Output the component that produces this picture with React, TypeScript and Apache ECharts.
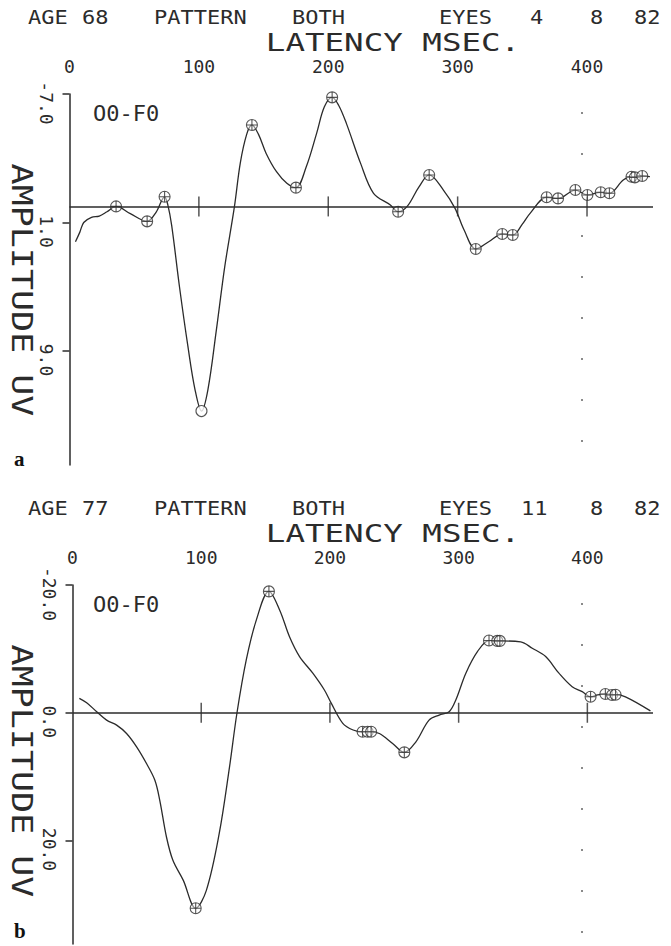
import { useEffect, useRef } from "react";
import * as echarts from "echarts";

// ---------- shared axis values ----------
const latencyTickLabels = [0, 100, 200, 300, 400];
const zeroLineTicks = [100, 200, 300, 400];
const dottedLatency = 396;
const latencyMax = 451;

// ---------- panel a ----------
const headerWordsA = ["AGE", "68", "PATTERN", "BOTH", "EYES", "4", "8", "82"];
const ampTicksA = [-7, 1, 9];
const ampMinA = -7;
const ampMaxA = 16.1;
const latencyA = [4.6, 8, 11, 17, 23, 29, 36, 47, 60, 67, 73.5, 76, 79, 85, 91.5, 97, 102, 107, 113.5, 120, 127.5, 132, 137, 141, 146, 152, 160, 168, 175, 183, 191, 197, 203, 208, 214, 225, 235, 248, 254, 261, 270, 278, 289, 298, 305, 314, 324, 334.5, 342.6, 350, 356, 368.8, 377.6, 391, 400.3, 410.6, 417.3, 428, 434.4, 437, 442.7, 448.6];
const amplitudeA = [2.2, 1.6, 1.0, 0.68, 0.6, 0.33, 0.0, 0.45, 0.93, 0.35, -0.6, -0.1, 1.2, 5.0, 8.7, 11.4, 12.74, 11.4, 7.7, 3.75, 0, -2.7, -4.5, -5.07, -4.5, -3.3, -2.16, -1.44, -1.17, -2.47, -4.55, -6.2, -6.79, -6.3, -5.17, -2.68, -0.82, -0.09, 0.33, 0, -1.2, -1.96, -1.02, 0.12, 1.47, 2.65, 2.2, 1.72, 1.78, 1.1, 0.43, -0.57, -0.5, -1.02, -0.71, -0.88, -0.82, -1.64, -1.85, -1.81, -1.89, -1.85];
const markLatencyA = [36, 60, 73.5, 141, 175, 203, 254, 278, 314, 334.5, 342.6, 368.8, 377.6, 391, 400.3, 410.6, 417.3, 434.4, 437, 442.7];
const markAmplitudeA = [0.0, 0.93, -0.6, -5.07, -1.17, -6.79, 0.33, -1.96, 2.65, 1.72, 1.78, -0.57, -0.5, -1.02, -0.71, -0.88, -0.82, -1.85, -1.81, -1.89];
const openLatencyA = [102];
const openAmplitudeA = [12.74];

// ---------- panel b ----------
const headerWordsB = ["AGE", "77", "PATTERN", "BOTH", "EYES", "11", "8", "82"];
const ampTicksB = [-20, 0, 20];
const ampMinB = -20;
const ampMaxB = 36.2;
const latencyB = [5.3, 11, 18.8, 26.5, 34.3, 42, 49.8, 57.5, 64, 67.8, 73, 78, 86, 95.7, 104, 114, 122, 127.8, 135, 142.8, 152.6, 160.9, 168.6, 176.4, 186.7, 195.7, 201, 210, 218, 225.4, 229.3, 232, 238.4, 248.7, 257.8, 266.8, 277, 284.9, 292.6, 297.8, 305.6, 314.6, 323.6, 330, 332, 348.2, 357.2, 367.6, 377.9, 388.2, 396, 402.5, 408, 414, 419.2, 421.9, 429.6, 449];
const amplitudeB = [-2.26, -1.57, -0.16, 1.15, 1.93, 3.24, 5.33, 7.95, 10.56, 13.7, 19.45, 23.1, 26.2, 30.6, 27.8, 18.9, 8.47, 0, -8.27, -14.5, -19.0, -16.1, -11.9, -8.8, -6.2, -3.56, -1.5, 1.66, 2.7, 2.98, 2.98, 2.98, 3.24, 4.8, 6.2, 4.55, 1.15, 0.36, -0.16, -2.0, -6.2, -9.57, -11.3, -11.25, -11.25, -11.1, -10.1, -8.8, -6.2, -4.08, -3.3, -2.5, -2.8, -2.93, -2.78, -2.83, -2.5, -0.3];
const markLatencyB = [95.7, 152.6, 225.4, 229.3, 232, 257.8, 323.6, 330, 332, 402.5, 414, 419.2, 421.9];
const markAmplitudeB = [30.6, -19.0, 2.98, 2.98, 2.98, 6.2, -11.3, -11.25, -11.25, -2.5, -2.93, -2.78, -2.83];

const channelLabel = "O0-F0";
const xTitle = "LATENCY MSEC.";
const yTitle = "AMPLITUDE UV";

const INK = "#2b2b2b";
const MONO = '"DejaVu Sans Mono", "Liberation Mono", monospace';
const CROSS_CIRCLE =
  "path://M10,0A10,10,0,1,1,-10,0A10,10,0,1,1,10,0ZM-10,0L10,0M0,-10L0,10";

const zip = (xs: number[], ys: number[]) => xs.map((x, i) => [x, ys[i]]);

export default function App() {
  const ref = useRef<HTMLDivElement>(null);

  useEffect(() => {
    if (!ref.current) return;
    const chart = echarts.init(ref.current, null, { renderer: "svg" });

    const panels = [
      { top: 94, height: 371, left: 69.5, min: ampMinA, max: ampMaxA, ticks: ampTicksA, interval: 8 },
      { top: 585, height: 359, left: 72.5, min: ampMinB, max: ampMaxB, ticks: ampTicksB, interval: 20 },
    ];

    const grids = panels.map((p) => ({
      left: p.left,
      right: 18,
      top: p.top,
      height: p.height,
      containLabel: false,
      outerBoundsMode: "none",
    }));

    const xAxes = panels.map((_, i) => ({
      type: "value",
      gridIndex: i,
      position: "top",
      min: 0,
      max: latencyMax,
      interval: 100,
      axisLine: { show: false, onZero: false },
      axisTick: { show: false },
      splitLine: { show: false },
      axisLabel: {
        customValues: latencyTickLabels,
        margin: 19,
        color: INK,
        fontFamily: MONO,
        fontSize: 18,
      },
    }));

    const yAxes = panels.map((p, i) => ({
      type: "value",
      gridIndex: i,
      inverse: true,
      min: p.min,
      max: p.max,
      interval: p.interval,
      axisLine: { show: true, onZero: false, lineStyle: { color: INK, width: 1.5 } },
      axisTick: { show: true, customValues: p.ticks, length: 7, inside: false, lineStyle: { color: INK, width: 1.5 } },
      splitLine: { show: false },
      axisLabel: {
        customValues: p.ticks,
        rotate: -90,
        margin: 14,
        padding: [0, 0, 0, 18],
        color: INK,
        fontFamily: MONO,
        fontSize: 18,
        formatter: (v: number) => v.toFixed(1),
      },
    }));

    const series: any[] = [];
    const curves = [
      { lat: latencyA, amp: amplitudeA, mLat: markLatencyA, mAmp: markAmplitudeA },
      { lat: latencyB, amp: amplitudeB, mLat: markLatencyB, mAmp: markAmplitudeB },
    ];
    curves.forEach((c, i) => {
      series.push({
        type: "line",
        xAxisIndex: i,
        yAxisIndex: i,
        data: zip(c.lat, c.amp),
        smooth: 0.35,
        showSymbol: false,
        lineStyle: { color: INK, width: 1.3 },
        markLine: {
          silent: true,
          symbol: "none",
          label: { show: false },
          data: [
            { yAxis: 0, lineStyle: { color: INK, width: 1.5, type: "solid" } },
            { xAxis: dottedLatency, lineStyle: { color: "#8a8a8a", width: 2, type: [2, 39], dashOffset: -18 } },
          ],
        },
      });
      series.push({
        type: "scatter",
        xAxisIndex: i,
        yAxisIndex: i,
        data: zeroLineTicks.map((t) => [t, 0]),
        symbol: "rect",
        symbolSize: [1.5, 20],
        itemStyle: { color: INK },
        z: 3,
      });
      series.push({
        type: "scatter",
        xAxisIndex: i,
        yAxisIndex: i,
        data: zip(c.mLat, c.mAmp),
        symbol: CROSS_CIRCLE,
        symbolSize: 11,
        itemStyle: { color: "rgba(255,255,255,0.6)", borderColor: INK, borderWidth: 1.1 },
        z: 4,
      });
    });
    series.push({
      type: "scatter",
      xAxisIndex: 0,
      yAxisIndex: 0,
      data: zip(openLatencyA, openAmplitudeA),
      symbol: "circle",
      symbolSize: 11,
      itemStyle: { color: "#fff", borderColor: INK, borderWidth: 1.1 },
      z: 4,
    });

    const headerX = [28, 82, 154, 292, 439, 530, 590, 634];
    const headerXB = [28, 82, 154, 292, 439, 521, 590, 634];
    const yTitleCenter = [290, 771];
    const graphic: any[] = [];
    const offsets = [0, 491];
    [headerWordsA, headerWordsB].forEach((words, i) => {
      const dy = offsets[i];
      const xs = i === 0 ? headerX : headerXB;
      words.forEach((w, k) => {
        graphic.push({
          type: "text",
          x: xs[k],
          y: 17 + dy,
          scaleX: 1.1,
          style: { text: w, fill: INK, fontFamily: MONO, fontSize: 20, textAlign: "left", textVerticalAlign: "middle" },
        });
      });
      graphic.push({
        type: "text",
        x: 393,
        y: 42 + dy,
        scaleX: 1.3,
        style: { text: xTitle, fill: INK, fontFamily: MONO, fontSize: 25, textAlign: "center", textVerticalAlign: "middle" },
      });
      graphic.push({
        type: "text",
        x: 22,
        y: yTitleCenter[i],
        rotation: -Math.PI / 2,
        scaleX: 1.25,
        style: { text: yTitle, fill: INK, fontFamily: MONO, fontSize: 28, textAlign: "center", textVerticalAlign: "middle" },
      });
      graphic.push({
        type: "text",
        x: 93,
        y: 113 + dy,
        style: { text: channelLabel, fill: INK, fontFamily: MONO, fontSize: 22, textAlign: "left", textVerticalAlign: "middle" },
      });
      graphic.push({
        type: "text",
        x: 14,
        y: i === 0 ? 459 : 931,
        style: {
          text: i === 0 ? "a" : "b",
          fill: "#111",
          fontFamily: '"Liberation Serif", serif',
          fontWeight: "bold",
          fontSize: 21,
          textAlign: "left",
          textVerticalAlign: "middle",
        },
      });
    });

    chart.setOption({
      animation: false,
      backgroundColor: "#ffffff",
      grid: grids,
      xAxis: xAxes,
      yAxis: yAxes,
      series,
      graphic,
    });

    return () => chart.dispose();
  }, []);

  return (
    <div
      ref={ref}
      style={{ position: "fixed", left: 0, top: 0, width: 671, height: 946, background: "#fff" }}
    />
  );
}
